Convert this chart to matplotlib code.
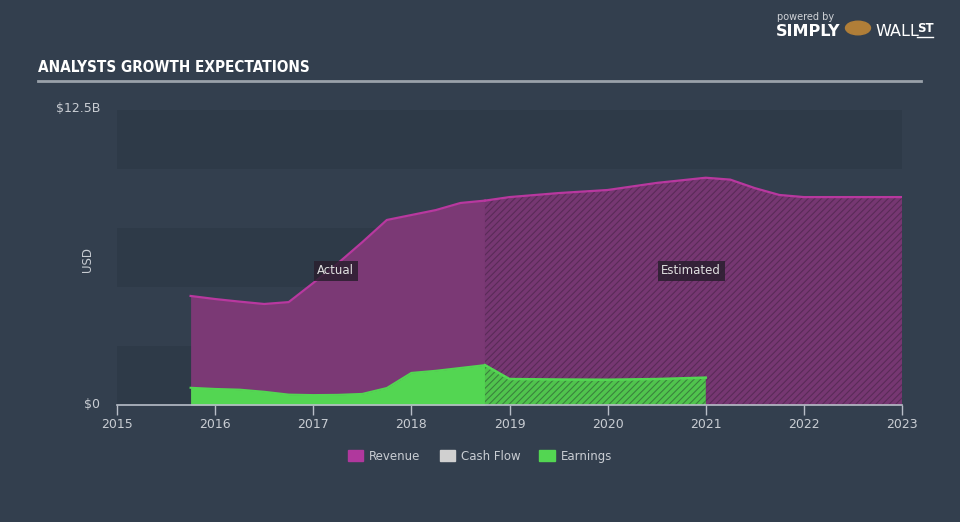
import matplotlib.pyplot as plt
from matplotlib.patches import Patch

# revenue / earnings, USD billions
actual_years = [2015.75, 2016.0, 2016.25, 2016.5, 2016.75, 2017.0, 2017.25,
                2017.5, 2017.75, 2018.0, 2018.25, 2018.5, 2018.75]
actual_revenue = [4.62, 4.49, 4.38, 4.28, 4.36, 5.17, 6.0,
                  6.9, 7.84, 8.05, 8.26, 8.56, 8.66]
actual_earnings = [0.73, 0.68, 0.65, 0.56, 0.44, 0.42, 0.43,
                   0.47, 0.72, 1.36, 1.45, 1.57, 1.69]

est_years = [2018.75, 2019.0, 2019.5, 2020.0, 2020.5, 2021.0,
             2021.25, 2021.5, 2021.75, 2022.0, 2023.0]
est_revenue = [8.66, 8.81, 8.98, 9.11, 9.41, 9.63,
               9.55, 9.19, 8.9, 8.81, 8.81]
est_earn_years = [2018.75, 2019.0, 2019.5, 2020.0, 2020.5, 2021.0]
est_earnings = [1.69, 1.1, 1.08, 1.07, 1.1, 1.16]

year_ticks = [2015, 2016, 2017, 2018, 2019, 2020, 2021, 2022, 2023]

BG = "#333f4e"
BAND = "#2e3a48"
REV_FILL = "#7b3975"
REV_LINE = "#b8389f"
EARN = "#53d652"
TXT = "#c9cdd3"

plt.rcParams["hatch.linewidth"] = 0.8

fig = plt.figure(figsize=(9.6, 5.22), dpi=100, facecolor=BG)
ax = fig.add_axes([117 / 960, 1 - 405 / 522, 785 / 960, 295 / 522])
ax.set_facecolor(BG)
ax.set_xlim(2015, 2023)
ax.set_ylim(0, 12.5)

for lo in (0, 5, 10):
    ax.axhspan(lo, lo + 2.5, color=BAND, lw=0, zorder=0)

# actual
ax.fill_between(actual_years, 0, actual_revenue, color=REV_FILL, lw=0, zorder=2)
ax.plot(actual_years, actual_revenue, color=REV_LINE, lw=1.6, zorder=3)
ax.fill_between(actual_years, 0, actual_earnings, color=EARN, lw=0, zorder=4)
ax.plot(actual_years, actual_earnings, color=EARN, lw=1.5, zorder=4)

# estimated (hatched)
ax.fill_between(est_years, 0, est_revenue, facecolor="#763772", edgecolor="#592b58",
                hatch="/////", lw=0, zorder=2)
ax.plot(est_years, est_revenue, color=REV_LINE, lw=1.6, zorder=3)
ax.fill_between(est_earn_years, 0, est_earnings, facecolor="#50c44d", edgecolor="#3a823d",
                hatch="/////", lw=0, zorder=4)
ax.plot(est_earn_years, est_earnings, color=EARN, lw=1.8, zorder=4)

box = dict(boxstyle="square,pad=0.3", fc="#2a1f2f", ec="none", alpha=0.85)
ax.text(2017.23, 5.68, "Actual", color="#e0e0e0", fontsize=8.5, ha="center",
        va="center", bbox=box, zorder=6)
ax.text(2020.85, 5.68, "Estimated", color="#e0e0e0", fontsize=8.5, ha="center",
        va="center", bbox=box, zorder=6)

for s in ("top", "right", "left"):
    ax.spines[s].set_visible(False)
ax.spines["bottom"].set_color("#b8bec8")
ax.spines["bottom"].set_linewidth(1.2)
ax.spines["bottom"].set_zorder(5)
ax.set_xticks(year_ticks)
ax.set_xticklabels([str(y) for y in year_ticks])
ax.tick_params(axis="x", colors="#b8bec8", labelcolor=TXT, labelsize=9,
               length=7, width=1, pad=2)
ax.set_yticks([])

fig.text(100 / 960, 1 - 108 / 522, "$12.5B", color=TXT, fontsize=9, ha="right", va="center")
fig.text(100 / 960, 1 - 404 / 522, "$0", color=TXT, fontsize=9, ha="right", va="center")
fig.text(88 / 960, 1 - 260 / 522, "USD", color=TXT, fontsize=8.5, rotation=90,
         ha="center", va="center")

# header
fig.text(38 / 960, 1 - 68 / 522, "ANALYSTS GROWTH EXPECTATIONS", color="white",
         fontsize=11, fontweight="bold", fontstretch="condensed",
         family=["DejaVu Sans"], ha="left", va="center")
fig.add_artist(plt.Line2D([38 / 960, 921 / 960], [1 - 81 / 522, 1 - 81 / 522],
                          color="#9aa1aa", lw=2))

fig.text(777 / 960, 1 - 17 / 522, "powered by", color="#d0d3d8", fontsize=7,
         ha="left", va="center")
fig.text(776 / 960, 1 - 32 / 522, "SIMPLY", color="white", fontsize=11.5,
         fontweight="bold", ha="left", va="center")
fig.text(875 / 960, 1 - 32 / 522, "WALL", color="white", fontsize=11.5,
         ha="left", va="center")
fig.text(917 / 960, 1 - 29 / 522, "ST", color="white", fontsize=8.5,
         fontweight="bold", ha="left", va="center")
fig.add_artist(plt.Line2D([917 / 960, 933 / 960], [1 - 37 / 522, 1 - 37 / 522],
                          color="white", lw=1))
fig.add_artist(plt.Circle((858 / 960, 1 - 28 / 522), 0.013, color="#b07e38",
                          transform=fig.transFigure))

handles = [Patch(color="#b0389d"), Patch(color="#d0d0d0"), Patch(color=EARN)]
fig.legend(handles, ["Revenue", "Cash Flow", "Earnings"], loc="center",
           bbox_to_anchor=(0.5, 1 - 456 / 522), ncol=3, frameon=False,
           labelcolor=TXT, fontsize=8.5, handlelength=1.3, handleheight=1.1,
           columnspacing=1.6, handletextpad=0.5)

fig.savefig("out.png", dpi=100, facecolor=BG)
